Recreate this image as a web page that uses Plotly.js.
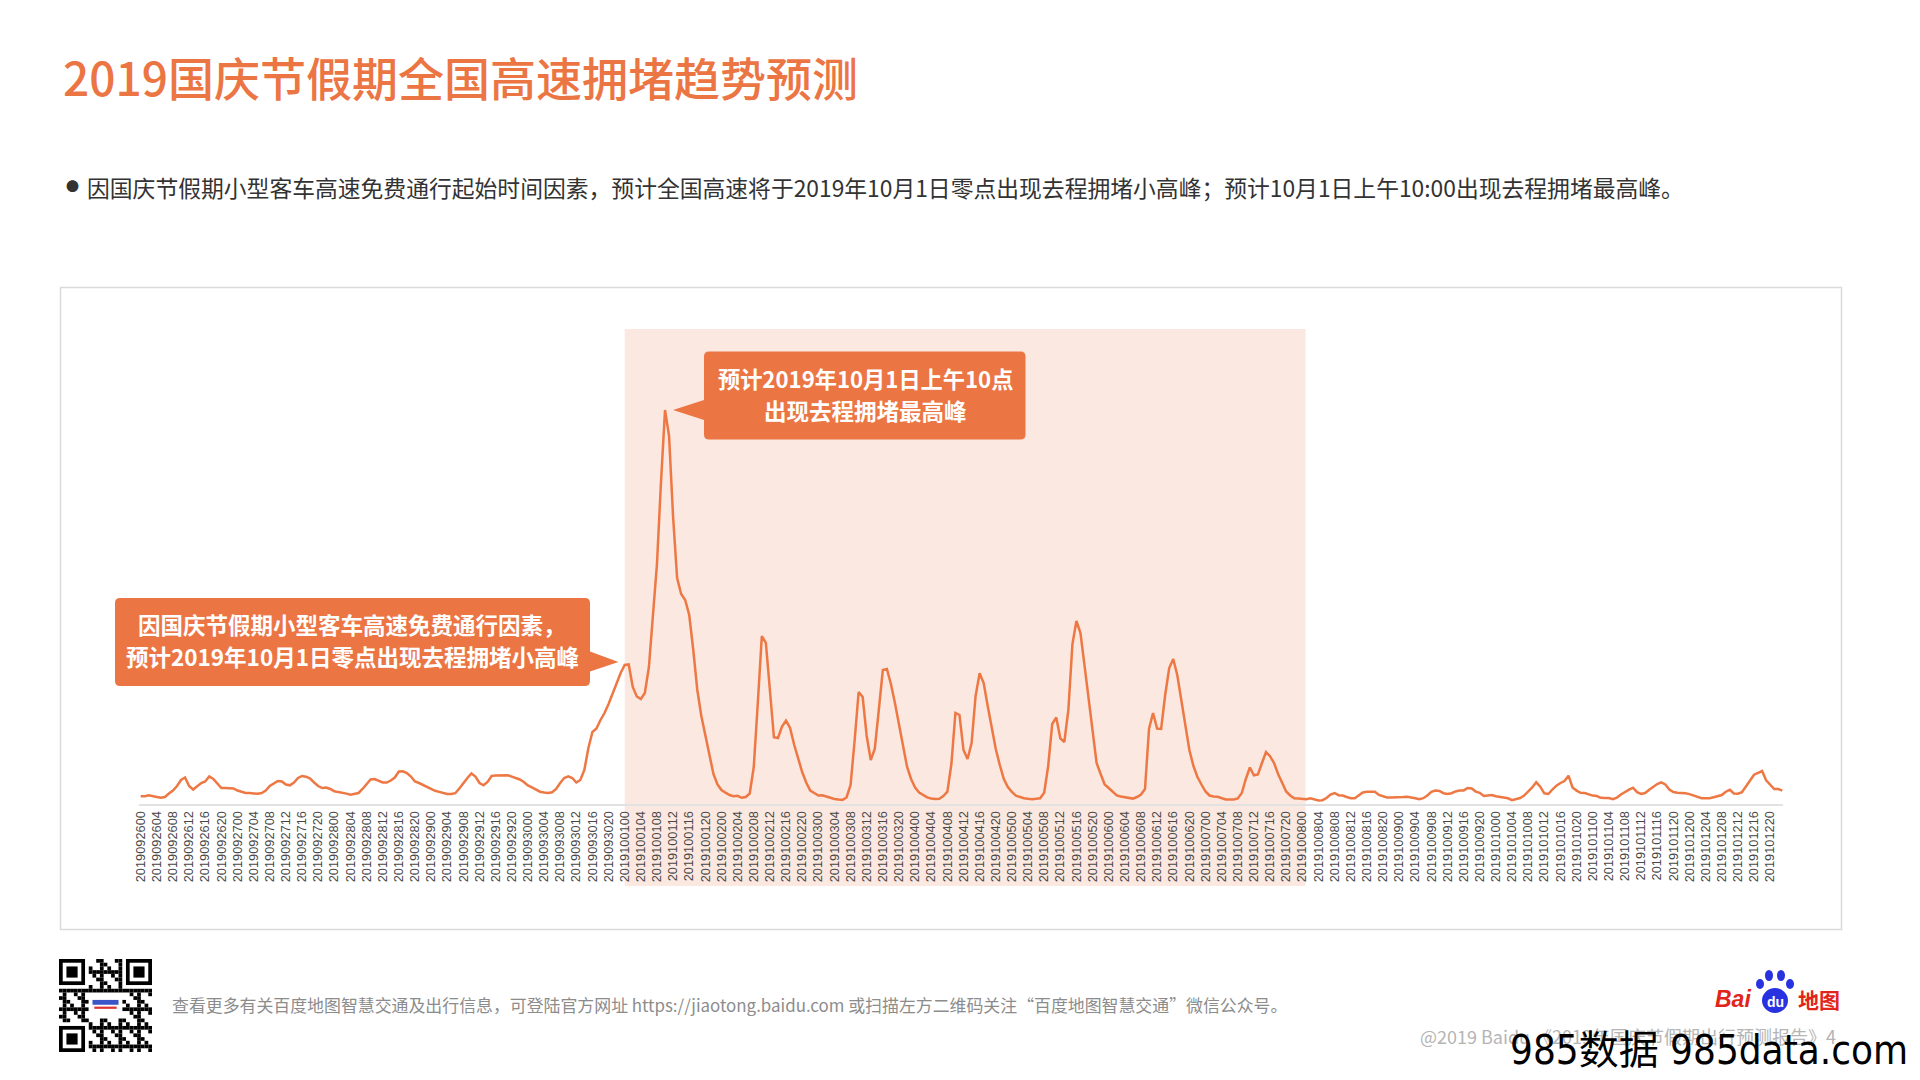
<!DOCTYPE html>
<html>
<head>
<meta charset="utf-8">
<script src="https://cdn.plot.ly/plotly-3.0.1.min.js"></script>
<style>
  html, body { margin: 0; padding: 0; background: #ffffff; }
  #chart { width: 1920px; height: 1080px; }
</style>
</head>
<body>
<div id="chart"></div>
<script>
// ---------------- data ----------------
const days = ['20190926','20190927','20190928','20190929','20190930','20191001','20191002','20191003',
              '20191004','20191005','20191006','20191007','20191008','20191009','20191010','20191011','20191012'];
const hours = ['00','01','02','03','04','05','06','07','08','09','10','11',
               '12','13','14','15','16','17','18','19','20','21','22','23'];
const tickHours = ['00','04','08','12','16','20'];

// hourly congestion level (arbitrary index) per day
const sep26 = [7.7,7.7,8.7,8.2,7.0,6.2,7.0,10.5,13.5,18.0,24.0,26.5,18.0,14.5,17.5,21.0,22.5,27.5,25.0,21.0,16.0,16.0,16.0,15.5];
const sep27 = [13.5,12.0,11.0,11.0,10.5,10.2,11.0,13.5,18.0,20.2,23.0,22.5,19.5,18.7,21.5,26.0,28.0,27.3,25.5,21.5,18.0,16.0,16.5,15.0];
const sep28 = [12.8,11.9,11.3,10.4,9.3,10.0,11.0,15.0,20.0,24.5,25.0,23.0,21.5,21.4,23.5,26.5,32.5,32.7,31.0,27.5,22.5,21.0,19.0,17.5];
const sep29 = [15.0,13.2,12.1,10.7,10.0,10.0,10.8,15.5,21.0,26.0,30.5,27.5,21.0,18.7,22.0,28.0,28.5,28.8,29.2,28.8,27.4,26.0,24.5,22.0];
const sep30 = [18.5,16.6,14.2,12.3,11.5,11.1,11.8,15.0,21.0,26.0,27.6,26.0,21.5,24.0,34.0,56.0,72.0,75.5,84.0,91.0,100.0,111.0,121.0,131.0];
const oct01 = [139.0,139.5,117.0,107.5,105.0,111.0,137.0,187.0,240.0,322.0,394.0,368.0,287.0,226.0,210.0,204.0,189.0,154.0,114.0,88.0,68.0,47.5,30.0,19.5];
const oct02 = [14.0,11.3,9.0,7.8,8.2,6.2,7.0,10.5,37.0,101.0,168.0,161.0,110.0,66.7,66.0,77.5,83.3,76.0,59.5,46.0,32.0,21.5,13.5,11.0];
const oct03 = [8.5,8.8,7.5,6.0,5.0,4.4,4.1,6.5,19.0,63.0,112.0,107.0,68.0,44.0,55.0,94.0,134.0,135.0,120.0,101.0,79.0,57.5,37.3,25.0];
const oct04 = [16.5,11.5,9.0,6.6,5.5,5.0,5.3,8.0,12.3,40.0,91.0,89.0,54.0,45.0,60.7,108.0,130.7,121.0,98.0,75.0,55.0,39.0,25.0,17.0];
const oct05 = [12.0,8.3,6.8,5.8,5.2,4.8,5.2,5.7,11.3,38.0,80.0,86.5,65.7,62.0,94.0,159.6,183.0,171.0,138.7,104.0,70.5,41.0,30.0,19.5];
const oct06 = [16.0,12.0,8.6,7.5,6.8,6.0,5.4,7.0,9.4,15.0,75.4,91.0,75.4,75.0,109.0,136.0,145.0,129.0,105.0,77.0,54.0,38.0,27.0,19.5];
const oct07 = [12.5,8.5,7.5,7.3,6.0,4.6,4.6,4.6,5.6,11.0,25.0,36.5,28.7,29.5,41.0,52.0,47.8,41.0,30.0,21.0,12.5,8.5,5.7,5.4];
const oct08 = [5.0,4.8,5.7,4.8,3.6,3.8,6.0,9.5,11.0,8.8,8.4,7.0,5.8,5.7,8.5,11.5,12.2,12.2,12.2,9.0,7.5,6.5,6.5,6.5];
const oct09 = [6.8,7.0,7.3,6.8,5.8,4.8,5.8,8.5,12.2,13.5,13.0,10.8,10.0,10.8,12.6,13.4,13.6,16.0,15.5,12.4,11.2,8.0,8.5,9.0];
const oct10 = [7.8,7.0,5.9,5.7,3.8,4.6,6.0,8.5,12.5,16.5,21.7,17.3,10.7,10.0,14.5,18.3,21.0,23.0,28.3,16.5,13.4,11.2,11.0,9.3];
const oct11 = [8.4,8.0,6.2,6.1,6.0,4.8,6.4,9.5,12.3,14.3,16.3,11.8,10.0,11.0,14.3,17.0,20.0,21.7,19.5,14.5,12.0,11.3,11.3,10.8];
const oct12 = [9.9,8.3,6.5,5.7,5.7,5.7,6.8,8.0,9.0,12.3,14.2,10.5,10.3,11.7,17.5,24.0,29.3,31.2,33.0,23.7,19.0,15.0,15.0,13.3];

const holidayStart = '2019100100';
const holidayEnd = '2019100800';

// ---------------- build ----------------
const dayValues = [sep26,sep27,sep28,sep29,sep30,oct01,oct02,oct03,oct04,oct05,oct06,oct07,oct08,oct09,oct10,oct11,oct12];
const categories = days.flatMap(d => hours.map(h => d + h));
const values = dayValues.flat();
const tickLabels = days.flatMap(d => tickHours.map(h => d + h));

const W0 = 1920, H0 = 1080;
const M = {l: 139, r: 137, t: 329, b: 276};
const PW = W0 - M.l - M.r, PH = H0 - M.t - M.b;
const XR = [-0.42, 407.18];
const X = p => (p - M.l) / PW;
const Y = p => (H0 - M.b - p) / PH;
const XI = i => (i - XR[0]) / (XR[1] - XR[0]);
const P = (x, y) => X(x).toFixed(5) + ',' + Y(y).toFixed(5);

const ORANGE = '#ec7544';

function callout(l, t, r, b, rad, side, py0, py1, tx, ty) {
  let s = 'M ' + P(l + rad, t) + ' L ' + P(r - rad, t) + ' Q ' + P(r, t) + ' ' + P(r, t + rad);
  if (side === 'right') s += ' L ' + P(r, py0) + ' L ' + P(tx, ty) + ' L ' + P(r, py1);
  s += ' L ' + P(r, b - rad) + ' Q ' + P(r, b) + ' ' + P(r - rad, b) + ' L ' + P(l + rad, b) +
       ' Q ' + P(l, b) + ' ' + P(l, b - rad);
  if (side === 'left') s += ' L ' + P(l, py1) + ' L ' + P(tx, ty) + ' L ' + P(l, py0);
  s += ' L ' + P(l, t + rad) + ' Q ' + P(l, t) + ' ' + P(l + rad, t) + ' Z';
  return s;
}

// decorative QR-like code image
function qrSvg() {
  const n = 25, m = 4;
  let rects = '';
  const finder = (r0, c0) => {
    let o = '';
    o += `<rect x="${c0*m}" y="${r0*m}" width="${7*m}" height="${7*m}" fill="#000"/>`;
    o += `<rect x="${(c0+1)*m}" y="${(r0+1)*m}" width="${5*m}" height="${5*m}" fill="#fff"/>`;
    o += `<rect x="${(c0+2)*m}" y="${(r0+2)*m}" width="${3*m}" height="${3*m}" fill="#000"/>`;
    return o;
  };
  for (let r = 0; r < n; r++) {
    for (let c = 0; c < n; c++) {
      const inF = (r < 8 && c < 8) || (r < 8 && c > n - 9) || (r > n - 9 && c < 8);
      const inLogo = r >= 9 && r <= 15 && c >= 8 && c <= 16;
      if (inF || inLogo) continue;
      if (((r * 7 + c * 11 + r * c * 3) % 5) < 2) rects += `<rect x="${c*m}" y="${r*m}" width="${m}" height="${m}" fill="#000"/>`;
    }
  }
  rects += finder(0, 0) + finder(0, n - 7) + finder(n - 7, 0);
  rects += `<rect x="${8*m}" y="${10*m}" width="${9*m}" height="${5*m}" fill="#fff"/>`;
  rects += `<rect x="${9*m}" y="${11*m}" width="${7*m}" height="${1.3*m}" fill="#3a55c8"/>`;
  rects += `<rect x="${9.5*m}" y="${12.8*m}" width="${6*m}" height="${0.6*m}" fill="#d33"/>`;
  const svg = `<svg xmlns="http://www.w3.org/2000/svg" width="${n*m}" height="${n*m}" viewBox="0 0 ${n*m} ${n*m}"><rect width="100%" height="100%" fill="#fff"/>${rects}</svg>`;
  return 'data:image/svg+xml;base64,' + btoa(svg);
}

const trace = {
  type: 'scatter',
  mode: 'lines',
  x: categories,
  y: values,
  line: {color: '#ee7844', width: 2.5, shape: 'linear'},
  hoverinfo: 'x+y',
  showlegend: false
};

const CJK = '"Noto Sans CJK SC", "Noto Sans", sans-serif';

const shapes = [
  // chart frame
  {type: 'rect', xref: 'paper', yref: 'paper', x0: X(60.5), x1: X(1841.5), y0: Y(929.5), y1: Y(287.5),
   line: {color: '#dadada', width: 1.5}, fillcolor: 'rgba(0,0,0,0)', layer: 'below'},
  // holiday band
  {type: 'rect', xref: 'paper', yref: 'paper',
   x0: XI(categories.indexOf(holidayStart)), x1: XI(categories.indexOf(holidayEnd) + 0.8),
   y0: Y(886), y1: Y(329), line: {width: 0}, fillcolor: '#fbe8e0', layer: 'below'},
  // callout boxes
  {type: 'path', xref: 'paper', yref: 'paper', layer: 'above', fillcolor: ORANGE, line: {width: 0},
   path: callout(115, 598, 590, 686, 5, 'right', 651.5, 671.5, 618.5, 662)},
  {type: 'path', xref: 'paper', yref: 'paper', layer: 'above', fillcolor: ORANGE, line: {width: 0},
   path: callout(704, 351.5, 1025.5, 439.5, 5, 'left', 400, 420, 673, 410)},
  // Baidu paw
  {type: 'circle', xref: 'paper', yref: 'paper', x0: X(1762), x1: X(1788), y0: Y(1013), y1: Y(988),
   fillcolor: '#2932e1', line: {width: 0}},
  {type: 'circle', xref: 'paper', yref: 'paper', x0: X(1756), x1: X(1764), y0: Y(989), y1: Y(979), fillcolor: '#2932e1', line: {width: 0}},
  {type: 'circle', xref: 'paper', yref: 'paper', x0: X(1765), x1: X(1773), y0: Y(981), y1: Y(970), fillcolor: '#2932e1', line: {width: 0}},
  {type: 'circle', xref: 'paper', yref: 'paper', x0: X(1777), x1: X(1785), y0: Y(981), y1: Y(970), fillcolor: '#2932e1', line: {width: 0}},
  {type: 'circle', xref: 'paper', yref: 'paper', x0: X(1786), x1: X(1794), y0: Y(989), y1: Y(979), fillcolor: '#2932e1', line: {width: 0}}
];

const ann = (x, y, text, size, color, xanchor, extra) => Object.assign({
  xref: 'paper', yref: 'paper', x: X(x), y: Y(y), text: text, showarrow: false,
  xanchor: xanchor || 'center', yanchor: 'middle',
  font: {family: CJK, size: size, color: color}
}, extra || {});

const annotations = [
  ann(72, 186, '●', 13, '#333333', 'center'),
  ann(85, 187, '因国庆节假期小型客车高速免费通行起始时间因素，预计全国高速将于2019年10月1日零点出现去程拥堵小高峰；预计10月1日上午10:00出现去程拥堵最高峰。', 22.8, '#333333', 'left'),
  ann(352, 624, '<b>因国庆节假期小型客车高速免费通行因素，</b>', 22.5, '#ffffff', 'center'),
  ann(352, 656, '<b>预计2019年10月1日零点出现去程拥堵小高峰</b>', 22.5, '#ffffff', 'center'),
  ann(865, 378, '<b>预计2019年10月1日上午10点</b>', 22.2, '#ffffff', 'center'),
  ann(865, 410, '<b>出现去程拥堵最高峰</b>', 22.5, '#ffffff', 'center'),
  ann(170, 1004, '查看更多有关百度地图智慧交通及出行信息，可登陆官方网址 https://jiaotong.baidu.com 或扫描左方二维码关注“百度地图智慧交通”微信公众号。', 16.9, '#8c8c8c', 'left'),
  ann(1713, 999, '<b><i>Bai</i></b>', 23, '#e1251b', 'left', {font: {family: '"Liberation Sans", Arial, sans-serif', size: 23, color: '#e1251b'}}),
  ann(1775, 1002, '<b>du</b>', 14, '#ffffff', 'center', {font: {family: '"Liberation Sans", Arial, sans-serif', size: 14, color: '#ffffff'}}),
  ann(1796, 999, '<b>地图</b>', 21, '#e1251b', 'left'),
  ann(1838, 1036, '@2019 Baidu 《2019年国庆节假期出行预测报告》4', 18, '#b5b5b5', 'right'),
  ann(1910, 1050, '985数据 985data.com', 40, '#000000', 'right',
      {font: {family: '"Liberation Sans Narrow", "DejaVu Sans Condensed", "Noto Sans CJK SC", sans-serif', size: 40, color: '#000000'}})
];

const layout = {
  width: W0, height: H0,
  margin: {l: M.l, r: M.r, t: M.t, b: M.b, pad: 0},
  paper_bgcolor: '#ffffff',
  plot_bgcolor: 'rgba(0,0,0,0)',
  showlegend: false,
  title: {
    text: '2019国庆节假期全国高速拥堵趋势预测',
    xref: 'container', yref: 'container',
    x: 63 / W0, xanchor: 'left',
    y: 1 - 80 / H0, yanchor: 'middle',
    font: {family: CJK, size: 46, color: ORANGE, weight: 500}
  },
  xaxis: {
    type: 'category',
    range: XR,
    tickmode: 'array',
    tickvals: tickLabels,
    ticktext: tickLabels,
    tickangle: -90,
    tickfont: {family: '"Liberation Sans", Arial, sans-serif', size: 12.8, color: '#474747'},
    ticks: '',
    showline: true, linecolor: '#e2e2e2', linewidth: 2,
    showgrid: false, zeroline: false, fixedrange: true
  },
  yaxis: {
    range: [0, PH],
    visible: false, showgrid: false, zeroline: false, fixedrange: true
  },
  shapes: shapes,
  annotations: annotations,
  images: [{
    source: qrSvg(), xref: 'paper', yref: 'paper',
    x: X(59), y: Y(959), sizex: 93 / PW, sizey: 93 / PH,
    xanchor: 'left', yanchor: 'top', sizing: 'stretch', layer: 'above'
  }]
};

Plotly.newPlot('chart', [trace], layout, {displayModeBar: false, staticPlot: true});
</script>
</body>
</html>
